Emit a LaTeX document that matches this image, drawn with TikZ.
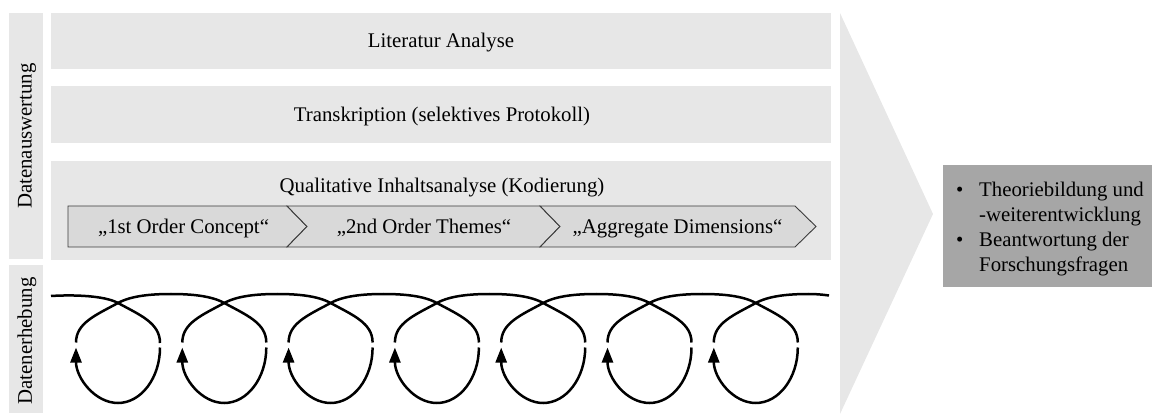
\documentclass[tikz,border=0pt]{standalone}
\usepackage{fontspec}
\setmainfont{Liberation Serif}
\usetikzlibrary{arrows.meta}
\definecolor{panelgrey}{HTML}{E7E7E7}
\definecolor{chevgrey}{HTML}{D9D9D9}
\definecolor{chevline}{HTML}{3C3C3C}
\definecolor{resgrey}{HTML}{A6A6A6}
\begin{document}
\begin{tikzpicture}[x=1pt,y=-1pt,
  txt/.style={font=\fontsize{20.8}{25}\selectfont, inner sep=0pt},
  panel/.style={fill=panelgrey, draw=none},
  chev/.style={fill=chevgrey, draw=chevline, line width=0.9pt, line join=miter},
  loopline/.style={line width=2.5pt, black},
  looparrow/.style={-{Triangle[length=15pt,width=11pt]}}]
\useasboundingbox (0,0) rectangle (1152,414);

% side labels
\fill[panel] (9,13) rectangle (43,259);
\fill[panel] (9,265) rectangle (43,413);
\node[txt, rotate=90] (lblA) at (27,136) {Datenauswertung};
\node[txt, rotate=90] (lblE) at (27,341) {Datenerhebung};

% analysis bars
\fill[panel] (51,13) rectangle (831,69);
\fill[panel] (51,86) rectangle (831,143);
\fill[panel] (51,161) rectangle (831,260);
\node[txt, anchor=base] (lit) at (441,48) {Literatur Analyse};
\node[txt, anchor=base] (trans) at (442,121.5) {Transkription (selektives Protokoll)};
\node[txt, anchor=base] (qual) at (442,192.5) {Qualitative Inhaltsanalyse (Kodierung)};

% coding steps
\draw[chev] (68,206) -- (287,206) -- (307,226.5) -- (287,247) -- (68,247) -- cycle;
\draw[chev] (287,206) -- (540,206) -- (560,226.5) -- (540,247) -- (287,247) -- (307,226.5) -- cycle;
\draw[chev] (540,206) -- (795,206) -- (816,226.5) -- (795,247) -- (540,247) -- (560,226.5) -- cycle;
\node[txt, anchor=base] (c1) at (183.5,234) {„1st Order Concept“};
\node[txt, anchor=base] (c2) at (424,234) {„2nd Order Themes“};
\node[txt, anchor=base] (c3) at (677.5,234) {„Aggregate Dimensions“};

% large arrow head
\fill[panelgrey] (840,13) -- (933,214) -- (840,414) -- cycle;

% result box
\fill[resgrey] (943,165) rectangle (1152,287);
\node[txt, anchor=base west] (res) at (956,197)
  {\begin{tabular}[t]{@{}l@{}}
   \makebox[23pt][l]{\textbullet}Theoriebildung und\\
   \makebox[23pt][l]{}-weiterentwicklung\\
   \makebox[23pt][l]{\textbullet}Beantwortung der\\
   \makebox[23pt][l]{}Forschungsfragen
   \end{tabular}};

% data collection loops
\def\pd{106.3}
\draw[loopline] (51,296) .. controls (75,294.5) and (105,295.8) .. (118,303)
  .. controls (140,315) and (160,323) .. (160,343);
\foreach \i in {0,...,6}{
  \pgfmathsetmacro\cx{118+\pd*\i}
  \draw[loopline, looparrow] (\cx+42,347.5) .. controls (\cx+42,378) and (\cx+23,403) .. (\cx,403)
    .. controls (\cx-23,403) and (\cx-42,378) .. (\cx-42,347.5);
}
\foreach \i in {0,...,5}{
  \pgfmathsetmacro\cx{118+\pd*\i}
  \pgfmathsetmacro\nx{118+\pd*(\i+1)}
  \draw[loopline] (\cx-42,342.5) .. controls (\cx-42,323) and (\cx-22,315) .. (\cx,303)
    .. controls (\cx+13,295.8) and (\cx+33,294) .. (\cx+53,294)
    .. controls (\nx-33,294) and (\nx-13,295.8) .. (\nx,303)
    .. controls (\nx+22,315) and (\nx+42,323) .. (\nx+42,342.5);
}
\pgfmathsetmacro\lx{118+\pd*6}
\draw[loopline] (\lx-42,342.5) .. controls (\lx-42,323) and (\lx-22,315) .. (\lx,303)
  .. controls (\lx+13,295.8) and (\lx+33,294) .. (\lx+53,294)
  .. controls (\lx+60,294) and (\lx+66,294.5) .. (829,295.5);
\end{tikzpicture}
\end{document}
